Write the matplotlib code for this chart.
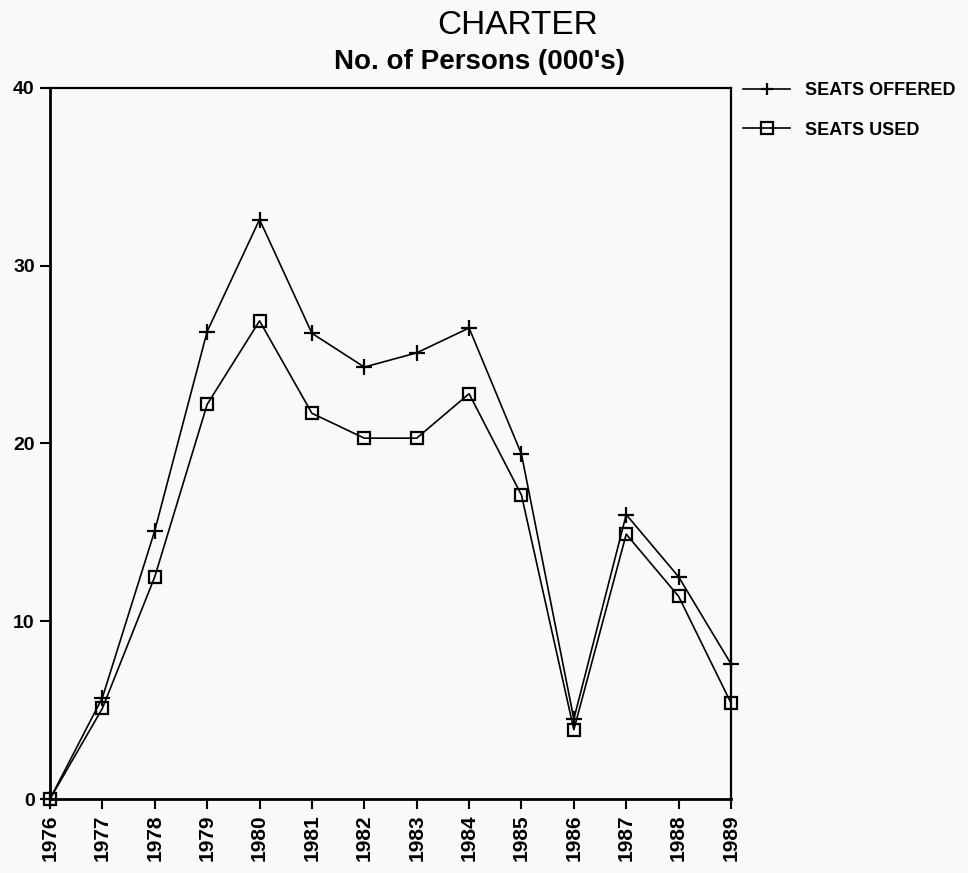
import matplotlib
matplotlib.use("Agg")
import matplotlib.pyplot as plt

years = [1976, 1977, 1978, 1979, 1980, 1981, 1982, 1983, 1984, 1985, 1986, 1987, 1988, 1989]
seats_offered = [0, 5.7, 15.1, 26.3, 32.6, 26.2, 24.3, 25.1, 26.5, 19.4, 4.5, 16.0, 12.5, 7.6]
seats_used = [0, 5.1, 12.5, 22.2, 26.9, 21.7, 20.3, 20.3, 22.8, 17.1, 3.9, 14.9, 11.4, 5.4]
y_ticks = [0, 10, 20, 30, 40]
title = "CHARTER"
subtitle = "No. of Persons (000's)"

plt.rcParams['font.family'] = ['Liberation Sans', 'DejaVu Sans']

bg = "#f9f9f7"
fig = plt.figure(figsize=(9.68, 8.73), dpi=100, facecolor=bg)
ax = fig.add_axes([50/968, 1-799/873, (731-50)/968, (799-88)/873])
ax.set_facecolor(bg)

ax.plot(years, seats_offered, color="black", lw=1.2, marker="+", ms=12, mew=1.6,
        label="SEATS OFFERED", clip_on=False, zorder=3)
ax.plot(years, seats_used, color="black", lw=1.2, marker="s", ms=9, mew=1.6,
        mfc="none", label="SEATS USED", clip_on=False, zorder=3)

ax.set_xlim(years[0], years[-1])
ax.set_ylim(0, 40)
ax.set_xticks(years)
ax.set_xticklabels([str(y) for y in years], rotation=90, fontsize=15, fontweight="bold")
ax.set_yticks(y_ticks)
ax.set_yticklabels([str(t) for t in y_ticks], fontsize=14, fontweight="bold")
ax.tick_params(direction="out", length=7, width=1.5, pad=4)
for s in ax.spines.values():
    s.set_linewidth(2.0)
ax.spines["top"].set_linewidth(1.6)
ax.spines["right"].set_linewidth(1.6)

fig.text(518/968, 1-25/873, title, ha="center", va="center", fontsize=24)
fig.text(479/968, 1-62/873, subtitle, ha="center", va="center", fontsize=20, fontweight="bold")

leg = fig.legend(loc="upper left", bbox_to_anchor=(736/968, 1-75/873), frameon=False,
                 handlelength=2.6, handletextpad=0.8, labelspacing=1.25,
                 borderaxespad=0, prop={"size": 13, "weight": "bold"})
for h in leg.legend_handles:
    h.set_markersize(9)

fig.savefig("out.png", dpi=100, facecolor=bg)
